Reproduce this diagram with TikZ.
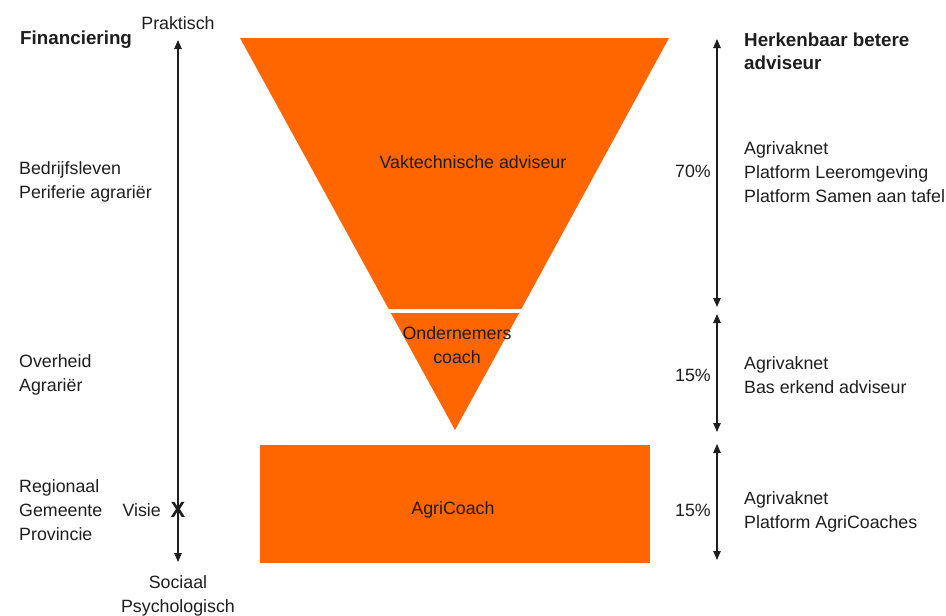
\documentclass[tikz,border=0pt]{standalone}
\usepackage{fontspec}
\setmainfont{Liberation Sans}
\usetikzlibrary{arrows.meta}
\definecolor{orng}{RGB}{255,102,0}
\definecolor{txt}{RGB}{30,30,30}
\begin{document}
\begin{tikzpicture}[x=1pt,y=-1pt,
  lbl/.style={font=\fontsize{17.8}{24}\selectfont, text=txt, inner sep=0pt, align=left},
  bld/.style={font=\fontsize{18.8}{23}\selectfont\bfseries, text=txt, inner sep=0pt, align=left},
  ctr/.style={font=\fontsize{17.8}{24}\selectfont, text=txt, inner sep=0pt, align=center},
  dbl/.style={{Triangle[length=9pt,width=7.5pt]}-{Triangle[length=9pt,width=7.5pt]}, line width=1.1pt, draw=txt},
  ]
\useasboundingbox (0,0) rectangle (946,616);
% funnel
\fill[orng] (240,38) -- (669,38) -- (521.3,309) -- (388.7,309) -- cycle;
\fill[orng] (390.8,313) -- (519.2,313) -- (455,430) -- cycle;
\fill[orng] (260,445) rectangle (650,563);
\node[ctr] (vak) at (473,162) {Vaktechnische adviseur};
\node[ctr] (ond) at (457,345) {Ondernemers\\coach};
\node[ctr] (agc) at (453,510) {AgriCoach};
% left axis
\coordinate (lt) at (178,40);
\coordinate (lb) at (178,562);
\draw[dbl] (lt) -- (lb);
\node[bld, anchor=west] (fin) at (20,40) {Financiering};
\node[ctr] (prak) at (178,23) {Praktisch};
\node[ctr] (soc) at (178,596) {Sociaal\\Psychologisch};
\node[lbl, anchor=west] (bed) at (19,182) {Bedrijfsleven\\Periferie agrariër};
\node[lbl, anchor=west] (ovh) at (19,375) {Overheid\\Agrariër};
\node[lbl, anchor=west] (reg) at (19,510) {Regionaal\\Gemeente\\Provincie};
\node[lbl, anchor=east] (vis) at (161,510) {Visie};
\node[font=\fontsize{22}{22}\selectfont\bfseries, text=txt, inner sep=0pt] (x) at (178,510) {X};
% right axis
\coordinate (r1t) at (717,39);
\coordinate (r1b) at (717,307);
\coordinate (r2t) at (717,314);
\coordinate (r2b) at (717,432);
\coordinate (r3t) at (717,444);
\coordinate (r3b) at (717,560);
\draw[dbl] (r1t) -- (r1b);
\draw[dbl] (r2t) -- (r2b);
\draw[dbl] (r3t) -- (r3b);
\node[lbl, anchor=east] (p1) at (711,171) {70\%};
\node[lbl, anchor=east] (p2) at (711,375) {15\%};
\node[lbl, anchor=east] (p3) at (711,510) {15\%};
\node[bld, anchor=west] (her) at (744,51) {Herkenbaar betere\\adviseur};
\node[lbl, anchor=west] (r1) at (744,172) {Agrivaknet\\Platform Leeromgeving\\Platform Samen aan tafel};
\node[lbl, anchor=west] (r2) at (744,375) {Agrivaknet\\Bas erkend adviseur};
\node[lbl, anchor=west] (r3) at (744,512) {Agrivaknet\\Platform AgriCoaches};
\end{tikzpicture}
\end{document}
